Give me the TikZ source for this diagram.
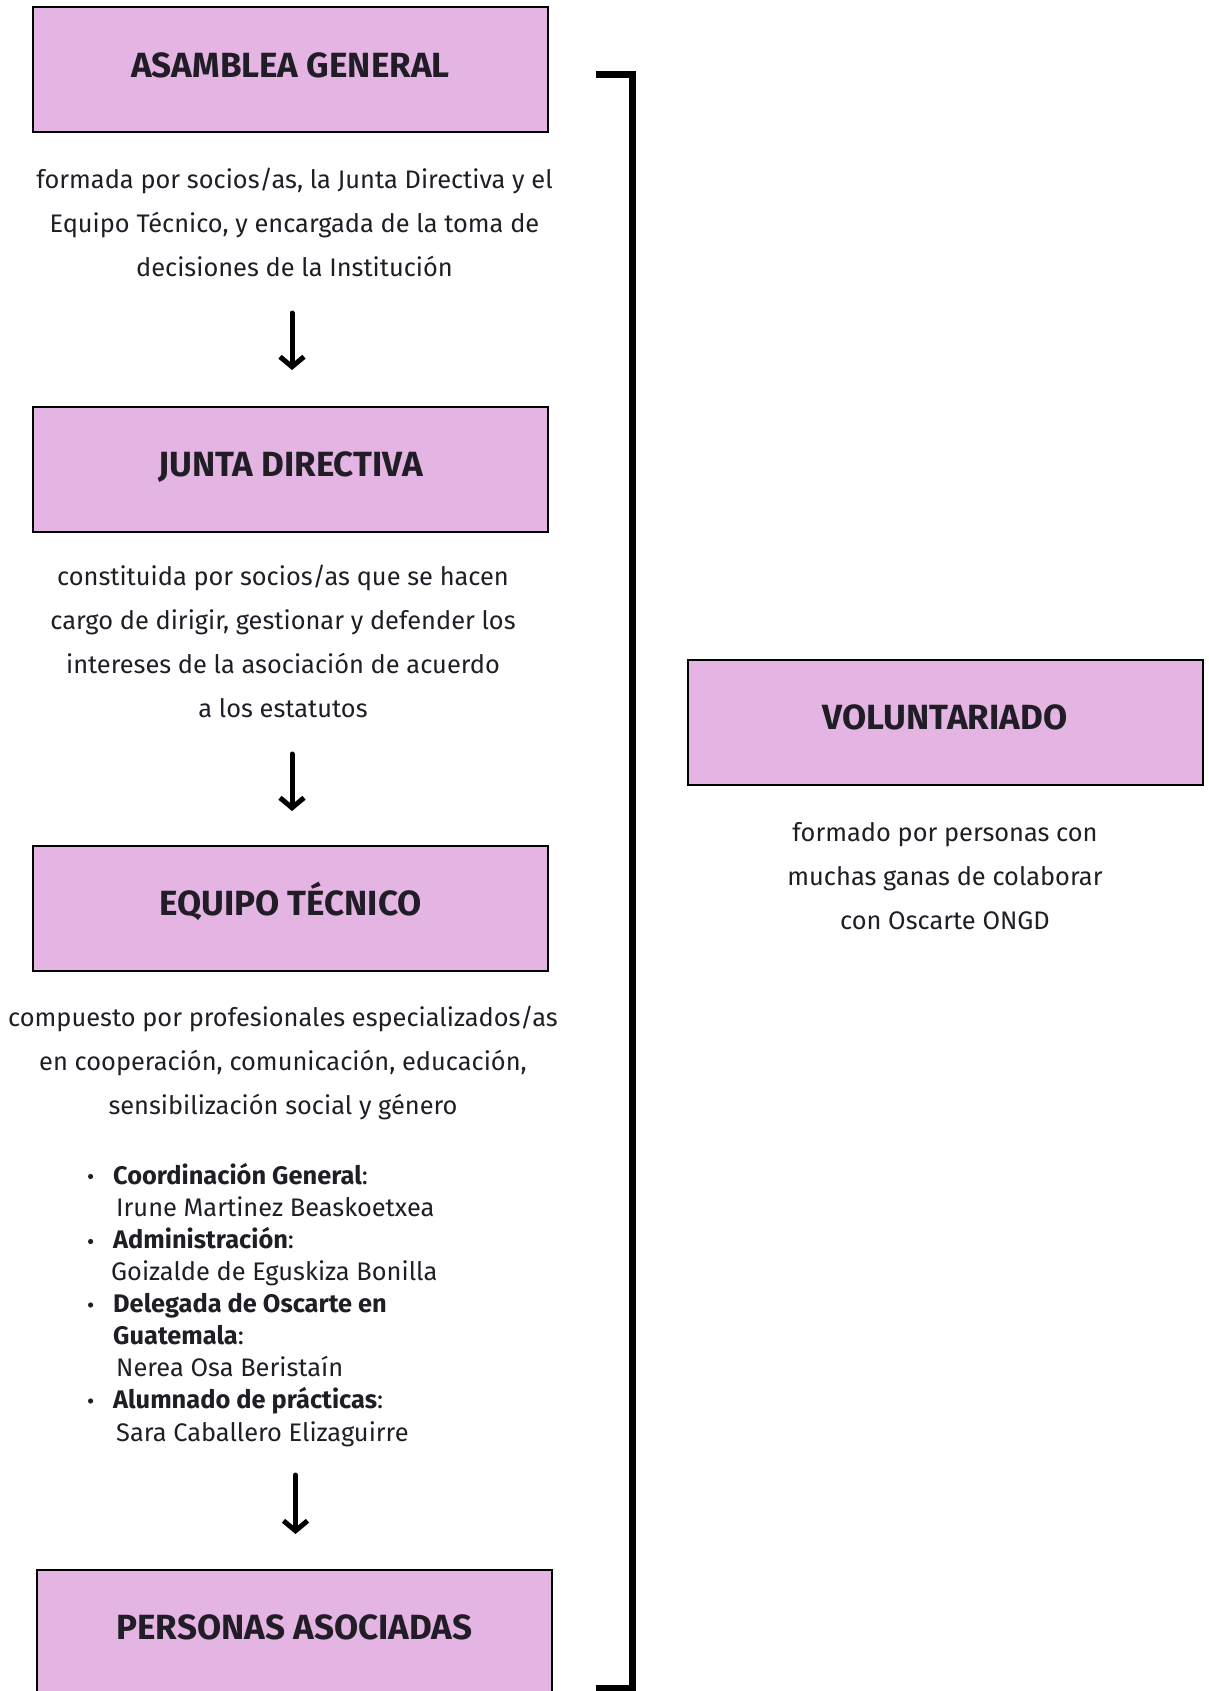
\documentclass[tikz,border=0pt]{standalone}
\usepackage{fontspec}
\setmainfont{Fira Sans}
\usetikzlibrary{arrows.meta}
\definecolor{boxfill}{HTML}{E4B5E3}
\definecolor{ink}{HTML}{211D26}
\begin{document}
\begin{tikzpicture}[x=1pt,y=-1pt,
  orgbox/.style={draw=black,line width=2pt,fill=boxfill,minimum width=515pt,minimum height=125pt,inner sep=0pt,
    font=\fontsize{35}{40}\selectfont\bfseries,text=ink,text height=24pt,text depth=9.5pt},
  desc/.style={font=\fontsize{25.4}{44}\selectfont,text=ink,align=center,anchor=base,inner sep=0pt},
  itemlist/.style={font=\fontsize{25.4}{32.1}\selectfont,text=ink,align=left,anchor=base west,inner sep=0pt},
  flow/.style={line width=5pt,-{Straight Barb[length=10pt,width=24pt,line width=5pt]},line cap=round,line join=round},
  bracket/.style={line width=7pt,line join=miter},
  dot/.style={fill=ink}
]
\useasboundingbox (0,0) rectangle (1209,1691);
\clip (0,0) rectangle (1209,1691);

% boxes
\node[orgbox] (asamblea) at (290.5,70) {ASAMBLEA GENERAL};
\node[orgbox] (junta) at (290.5,469) {JUNTA DIRECTIVA};
\node[orgbox] (equipo) at (290.5,908) {EQUIPO TÉCNICO};
\node[orgbox] (personas) at (294.5,1632.5) {PERSONAS ASOCIADAS};
\node[orgbox] (volunt) at (945,722.5) {VOLUNTARIADO};

% descriptions (base = last line baseline)
\node[desc] (d1) at (294.5,276.5) {formada por socios/as, la Junta Directiva y el\\Equipo Técnico, y encargada de la toma de\\decisiones de la Institución};
\node[desc] (d2) at (283,717) {constituida por socios/as que se hacen\\cargo de dirigir, gestionar y defender los\\intereses de la asociación de acuerdo\\a los estatutos};
\node[desc] (d3) at (283,1114.5) {compuesto por profesionales especializados/as\\en cooperación, comunicación, educación,\\sensibilización social y género};
\node[desc] (dv) at (945,929) {formado por personas con\\muchas ganas de colaborar\\con Oscarte ONGD};

% team list
\node[itemlist] (lista) at (113,1441) {\textbf{Coordinación General}:\\
\hspace*{3pt}Irune Martinez Beaskoetxea\\
\textbf{Administración}:\\
\hspace*{-2pt}Goizalde de Eguskiza Bonilla\\
\textbf{Delegada de Oscarte en}\\
\textbf{Guatemala}:\\
\hspace*{3pt}Nerea Osa Beristaín\\
\textbf{Alumnado de prácticas}:\\
\hspace*{3pt}Sara Caballero Elizaguirre};
\foreach \yy in {1176.5,1241.5,1305,1401} \fill[dot] (90.6,\yy) circle (2.6pt);

% arrows
\coordinate (a1s) at (292,313); \coordinate (a1e) at (292,370);
\coordinate (a2s) at (292,754); \coordinate (a2e) at (292,811);
\coordinate (a3s) at (295.5,1475); \coordinate (a3e) at (295.5,1534);
\draw[flow] (a1s) -- (a1e);
\draw[flow] (a2s) -- (a2e);
\draw[flow] (a3s) -- (a3e);

% bracket
\coordinate (brT) at (596,74.5);
\coordinate (brB) at (596,1688.5);
\draw[bracket] (brT) -- ++(36.5,0) |- (brB);
\end{tikzpicture}
\end{document}
